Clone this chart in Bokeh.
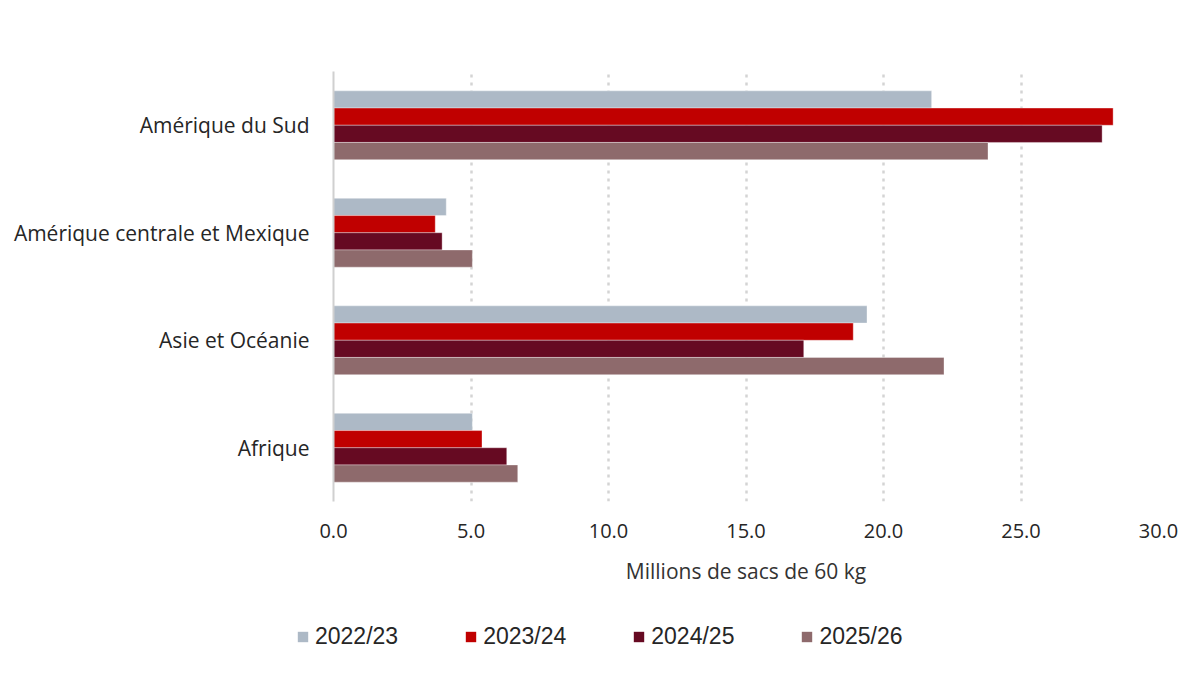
from bokeh.plotting import figure
from bokeh.models import Range1d, FactorRange, Legend, LegendItem, FixedTicker, ColumnDataSource
from bokeh.transform import dodge
from bokeh.embed import file_html
from bokeh.resources import INLINE

# ---- data ----
regions = ["Afrique", "Asie et Océanie", "Amérique centrale et Mexique", "Amérique du Sud"]
seasons = ["2022/23", "2023/24", "2024/25", "2025/26"]
v_2022_23 = [5.05, 19.4, 4.1, 21.75]
v_2023_24 = [5.4, 18.9, 3.7, 28.35]
v_2024_25 = [6.3, 17.1, 3.95, 27.95]
v_2025_26 = [6.7, 22.2, 5.05, 23.8]
x_ticks = [0, 5, 10, 15, 20, 25, 30]
colors = ["#ADB9C6", "#C00000", "#660A22", "#8E6A6C"]

offsets = [0.24, 0.08, -0.08, -0.24]
keys = ["s0", "s1", "s2", "s3"]

src = ColumnDataSource(dict(region=regions, s0=v_2022_23, s1=v_2023_24, s2=v_2024_25, s3=v_2025_26))

p = figure(width=1184, height=600, output_backend="svg", toolbar_location=None,
           y_range=FactorRange(*regions), x_range=Range1d(0, 30),
           min_border_left=333, min_border_right=26, min_border_top=71, min_border_bottom=99)
p.outline_line_color = None
p.background_fill_color = "white"
p.border_fill_color = "white"

for i, key in enumerate(keys):
    p.hbar(y=dodge("region", offsets[i], range=p.y_range), right=key, left=0,
           height=0.16, source=src, fill_color=colors[i],
           line_color="white", line_alpha=0.35, line_width=1)

# axes
p.xaxis.ticker = FixedTicker(ticks=x_ticks)
p.xaxis.major_label_overrides = {t: f"{t:.1f}" for t in x_ticks}
p.xaxis.axis_line_color = None
p.xaxis.major_tick_line_color = None
p.xaxis.minor_tick_line_color = None
p.xaxis.major_label_standoff = 16
p.xaxis.major_label_text_font = "Open Sans"
p.xaxis.major_label_text_font_size = "20px"
p.xaxis.major_label_text_color = "#262626"
p.xaxis.axis_label = "Millions de sacs de 60 kg"
p.xaxis.axis_label_text_font = "Open Sans"
p.xaxis.axis_label_text_font_size = "21px"
p.xaxis.axis_label_text_font_style = "normal"
p.xaxis.axis_label_text_color = "#333333"
p.xaxis.axis_label_standoff = 16

p.yaxis.axis_line_color = "#D0D0D0"
p.yaxis.axis_line_width = 2
p.yaxis.major_tick_line_color = None
p.yaxis.minor_tick_line_color = None
p.yaxis.major_label_standoff = 18
p.yaxis.major_label_text_font = "Open Sans"
p.yaxis.major_label_text_font_size = "21px"
p.yaxis.major_label_text_color = "#262626"

p.ygrid.grid_line_color = None
p.xgrid.ticker = FixedTicker(ticks=x_ticks[1:])
p.xgrid.grid_line_color = "#D4D4D4"
p.xgrid.grid_line_width = 2.5
p.xgrid.grid_line_dash = "3 5"

# legend strip (separate root so its frame is not aligned with the chart's)
pl = figure(width=1184, height=84, output_backend="svg", toolbar_location=None,
            x_axis_type=None, y_axis_type=None,
            min_border_left=0, min_border_right=0, min_border_top=0, min_border_bottom=0,
            x_range=Range1d(0, 1), y_range=Range1d(0, 1))
pl.outline_line_color = None
pl.grid.grid_line_color = None
leg_renderers = []
for i, key in enumerate(keys):
    r = pl.hbar(y=-5, right=key, left=0, height=0.5, source=src,
                fill_color=colors[i], line_color=None)
    leg_renderers.append(r)

legend = Legend(items=[LegendItem(label=seasons[i], renderers=[leg_renderers[i]]) for i in range(4)],
                orientation="horizontal", location=(296, 34))
legend.background_fill_alpha = 0
legend.border_line_color = None
legend.glyph_width = 13
legend.glyph_height = 13
legend.label_standoff = 6
legend.spacing = 66
legend.padding = 0
legend.margin = 0
legend.label_text_font = "Liberation Sans"
legend.label_text_font_size = "23px"
legend.label_text_color = "#262626"
pl.add_layout(legend, "center")

open("out.html", "w").write(file_html([p, pl], INLINE))
